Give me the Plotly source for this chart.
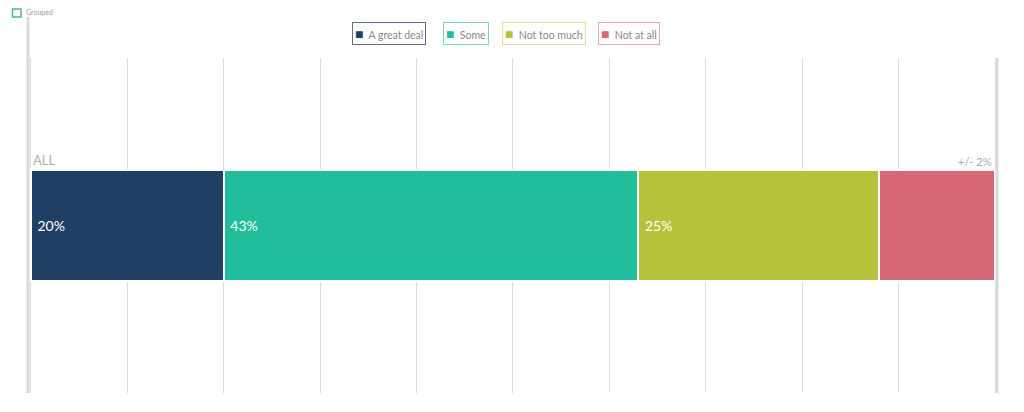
import plotly.graph_objects as go

# Data
group = ["ALL"]
series = ["A great deal", "Some", "Not too much", "Not at all"]
values = [20, 43, 25, 12]
labels = ["20%", "43%", "25%", ""]
colors = ["#1f4064", "#22bd9b", "#b7c23b", "#d66776"]
legend_borders = ["#5a6f86", "#7fd6c3", "#dbe09a", "#e8a9b2"]
margin_note = "+/- 2%"

# page body adds an 8px offset, so work in screen px and shift
OFF = 8
W, H = 1024, 412
L, R, T, B = 28 - OFF, W - (997 - OFF), 58 - OFF, H - (393 - OFF)


def px(x):
    return (x - OFF - L) / (W - L - R)


def py(y):
    return (H - B - (y - OFF)) / (H - T - B)


fig = go.Figure()

for name, val, lab, col in zip(series, values, labels, colors):
    fig.add_trace(go.Bar(
        x=[val], y=group,
        orientation="h",
        name=name,
        text=["\u00a0" + lab if lab else ""],
        textposition="inside",
        insidetextanchor="start",
        textfont=dict(color="white", size=14, family="Lato"),
        marker=dict(color=col, line=dict(color="white", width=2)),
        width=0.33,
        hoverinfo="skip",
        showlegend=False,
    ))

# legend boxes built as bordered annotations
leg_x = [389, 466, 544, 629]
annotations = []
for name, col, bc, x in zip(series, colors, legend_borders, leg_x):
    annotations.append(dict(
        x=px(x), y=py(33), xref="paper", yref="paper",
        text=f"<span style='color:{col};font-size:14px'>■</span>  {name}",
        showarrow=False,
        font=dict(size=10.5, color="#8a8a8a", family="Lato"),
        bordercolor=bc, borderwidth=1, borderpad=2,
        xanchor="center", yanchor="middle",
    ))

annotations.append(dict(
    x=px(31), y=py(160), xref="paper", yref="paper",
    text=group[0], showarrow=False, xanchor="left", yanchor="middle",
    font=dict(size=13, color="#b0b0b0", family="Lato"),
))
annotations.append(dict(
    x=px(994), y=py(161), xref="paper", yref="paper",
    text=margin_note, showarrow=False, xanchor="right", yanchor="middle",
    font=dict(size=11, color="#a8a8a8", family="Lato"),
))
annotations.append(dict(
    x=px(24), y=py(11.5), xref="paper", yref="paper",
    text="Grouped", showarrow=False, xanchor="left", yanchor="middle",
    font=dict(size=7, color="#a0a0a0", family="Lato"),
))

shapes = [
    # left axis rule
    dict(type="line", xref="paper", yref="paper", x0=px(28), x1=px(28),
         y0=py(17), y1=py(393), line=dict(color="#d9d9d9", width=3)),
    # right axis rule
    dict(type="line", xref="paper", yref="paper", x0=px(997), x1=px(997),
         y0=py(58), y1=py(393), line=dict(color="#d9d9d9", width=3)),
    # grouped checkbox
    dict(type="rect", xref="paper", yref="paper", x0=px(12.5), x1=px(21),
         y0=py(17), y1=py(9), line=dict(color="#4db3a6", width=1.5)),
]

fig.update_layout(
    width=W, height=H,
    barmode="stack",
    margin=dict(l=L, r=R, t=T, b=B),
    paper_bgcolor="white",
    plot_bgcolor="white",
    font=dict(family="Lato"),
    xaxis=dict(range=[-0.3, 100.2], dtick=10, showgrid=True,
               gridcolor="#dcdcdc", gridwidth=1, zeroline=False,
               showticklabels=False, fixedrange=True),
    yaxis=dict(range=[-0.5, 0.5], showticklabels=False, showgrid=False,
               zeroline=False, fixedrange=True),
    annotations=annotations,
    shapes=shapes,
)

fig.write_html("out.html")
